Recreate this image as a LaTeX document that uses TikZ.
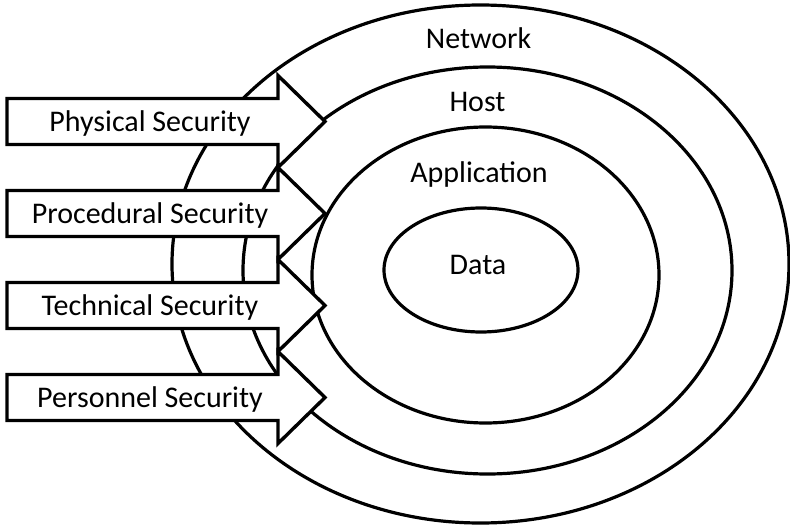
\documentclass[tikz,border=0pt]{standalone}
\usepackage{fontspec}
\setmainfont{Carlito}
\usetikzlibrary{shapes.geometric}
\begin{document}
\begin{tikzpicture}[x=1pt,y=-1pt,
  ring/.style={draw, ellipse, inner sep=0pt, line width=3.2pt},
  lbl/.style={font=\fontsize{30}{35}\selectfont, anchor=base, inner sep=0pt},
  secarrow/.style={draw, fill=white, line width=3.4pt, line join=miter}]
\useasboundingbox (0,0) rectangle (790,527);
\node[ring, minimum width=617pt, minimum height=518pt] (net) at (480.5,264) {};
\node[ring, minimum width=489pt, minimum height=407pt] (host) at (487.5,270.5) {};
\node[ring, minimum width=347pt, minimum height=296pt] (app) at (485.5,275) {};
\node[ring, minimum width=194pt, minimum height=124pt] (data) at (481,270) {};
\node[lbl] (netl) at (478.5,49) {Network};
\node[lbl] (hostl) at (477.5,111) {Host};
\node[lbl] (appl) at (479,182) {Application};
\node[lbl] (datal) at (478,274) {Data};
\foreach \c/\t/\n in {121.5/Physical Security/phys, 213.5/Procedural Security/proc, 305.5/Technical Security/tech, 397.5/Personnel Security/pers}{
  \draw[secarrow] (7,\c-23) -- (278,\c-23) -- (278,\c-46) -- (325,\c) -- (278,\c+46) -- (278,\c+23) -- (7,\c+23) -- cycle;
  \node[lbl] (\n) at (150,\c+9.5) {\t};
}
\end{tikzpicture}
\end{document}
